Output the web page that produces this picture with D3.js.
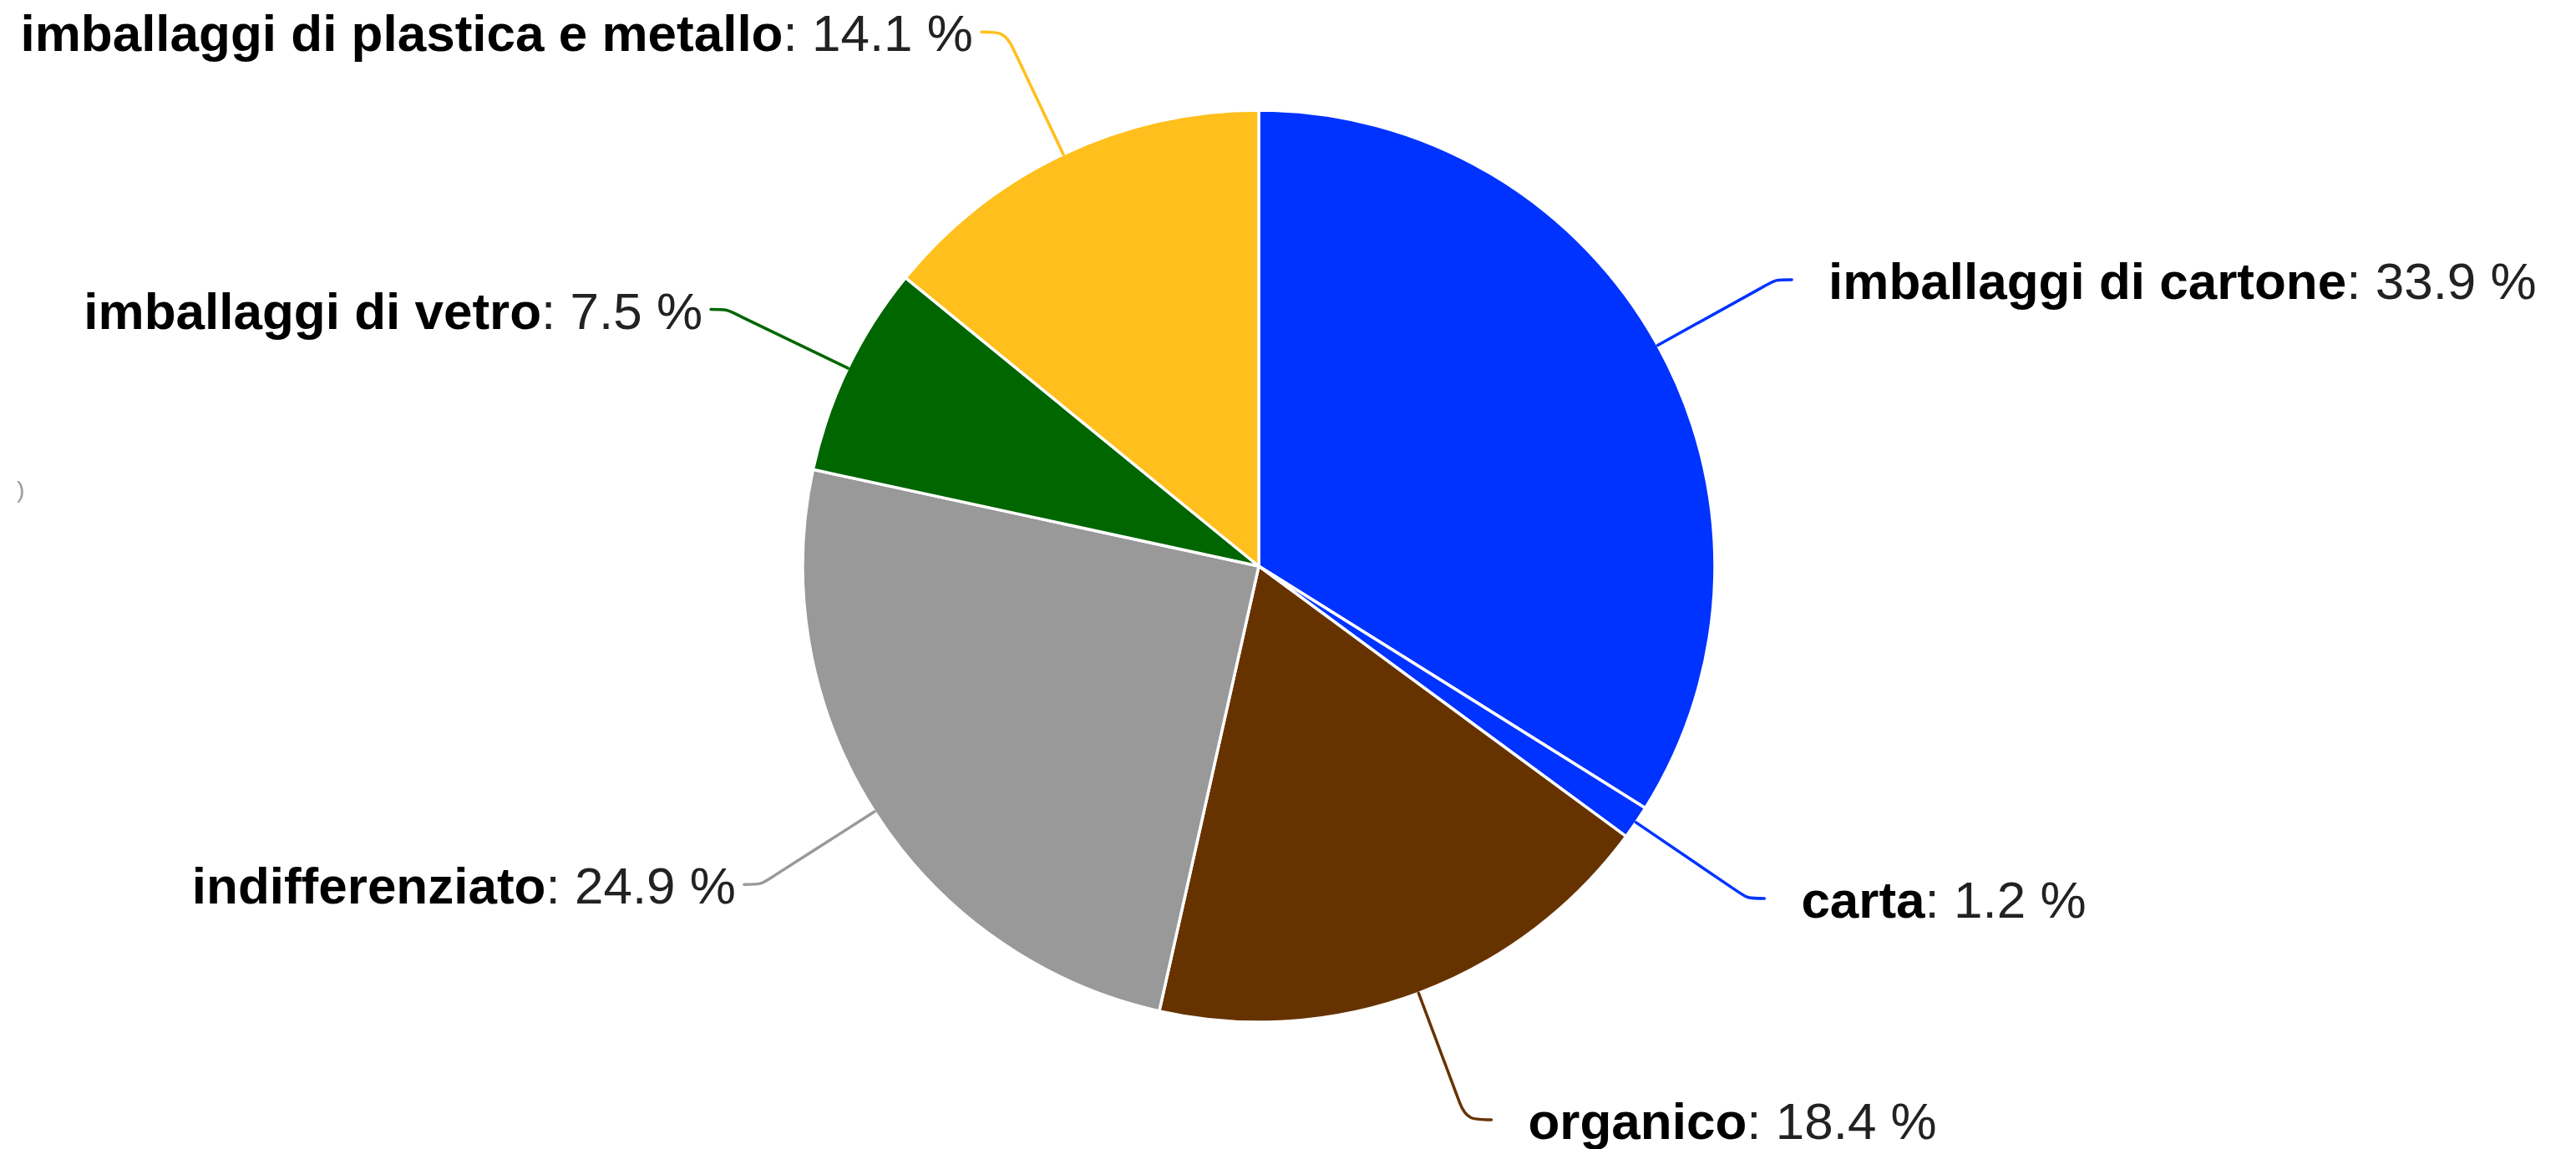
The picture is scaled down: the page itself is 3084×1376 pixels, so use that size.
<!DOCTYPE html>
<html>
<head>
<meta charset="utf-8">
<script src="https://cdn.jsdelivr.net/npm/d3@7"></script>
<style>
  body { margin: 0; background: #fff; }
  svg { display: block; }
</style>
</head>
<body>
<div id="chart"></div>
<script>
const WIDTH = 3084
const HEIGHT = 1376
const CENTER = { X: 1507, Y: 678 }
const RADIUS = 546

const categories = [
  "imballaggi di cartone",
  "carta",
  "organico",
  "indifferenziato",
  "imballaggi di vetro",
  "imballaggi di plastica e metallo"
]
const values = [33.9, 1.2, 18.4, 24.9, 7.5, 14.1]
const colors = ["#0033ff", "#0033ff", "#663300", "#999999", "#006600", "#ffbf1c"]

const svg = d3.select("#chart")
  .append("svg")
    .attr("width", WIDTH)
    .attr("height", HEIGHT)

const g = svg.append("g")
    .attr("transform", `translate(${CENTER.X}, ${CENTER.Y})`)

const pie = d3.pie().sort(null).value(d => d)
const arcs = pie(values)

const arc = d3.arc().innerRadius(0).outerRadius(RADIUS)

g.selectAll("path.slice")
  .data(arcs)
  .enter().append("path")
    .attr("class", "slice")
    .attr("d", arc)
    .attr("fill", (d, i) => colors[i])
    .attr("stroke", "#fff")
    .attr("stroke-width", 3.5)
    .attr("stroke-linejoin", "round")

// connectors + labels
const BREAK_R = RADIUS + 140
const LABEL_R = RADIUS + 162
const pt = (a, r) => [Math.sin(a) * r, -Math.cos(a) * r]

arcs.forEach((d, i) => {
  const a = (d.startAngle + d.endAngle) / 2
  const side = Math.sin(a) >= 0 ? 1 : -1
  const edge = pt(a, RADIUS)
  const brk = pt(a, BREAK_R)
  const lx = brk[0] + side * 38
  const ly = pt(a, LABEL_R)[1]
  const dir = [Math.sin(a), -Math.cos(a)]

  const path = d3.path()
  path.moveTo(edge[0], edge[1])
  path.lineTo(brk[0], brk[1])
  path.bezierCurveTo(brk[0] + dir[0] * 22, brk[1] + dir[1] * 22,
                     lx - side * 22, ly, lx, ly)

  g.append("path")
    .attr("d", path.toString())
    .attr("fill", "none")
    .attr("stroke", colors[i])
    .attr("stroke-width", 3.5)
    .attr("stroke-linecap", "round")

  const t = g.append("text")
    .attr("x", side > 0 ? lx + 44 : lx - 10)
    .attr("y", ly + 23)
    .attr("text-anchor", side > 0 ? "start" : "end")
    .style("font-family", "'Liberation Sans', Arial, sans-serif")
    .style("font-size", "62px")
  t.append("tspan")
    .attr("font-weight", "bold")
    .attr("fill", "#000")
    .text(categories[i])
  t.append("tspan")
    .attr("fill", "#222")
    .text(`: ${values[i]} %`)
})

// stray glyph at left edge
svg.append("text")
    .attr("x", 20)
    .attr("y", 596)
    .attr("fill", "#999")
    .style("font-family", "'Liberation Sans', Arial, sans-serif")
    .style("font-size", "28px")
    .text(")")
</script>
</body>
</html>
